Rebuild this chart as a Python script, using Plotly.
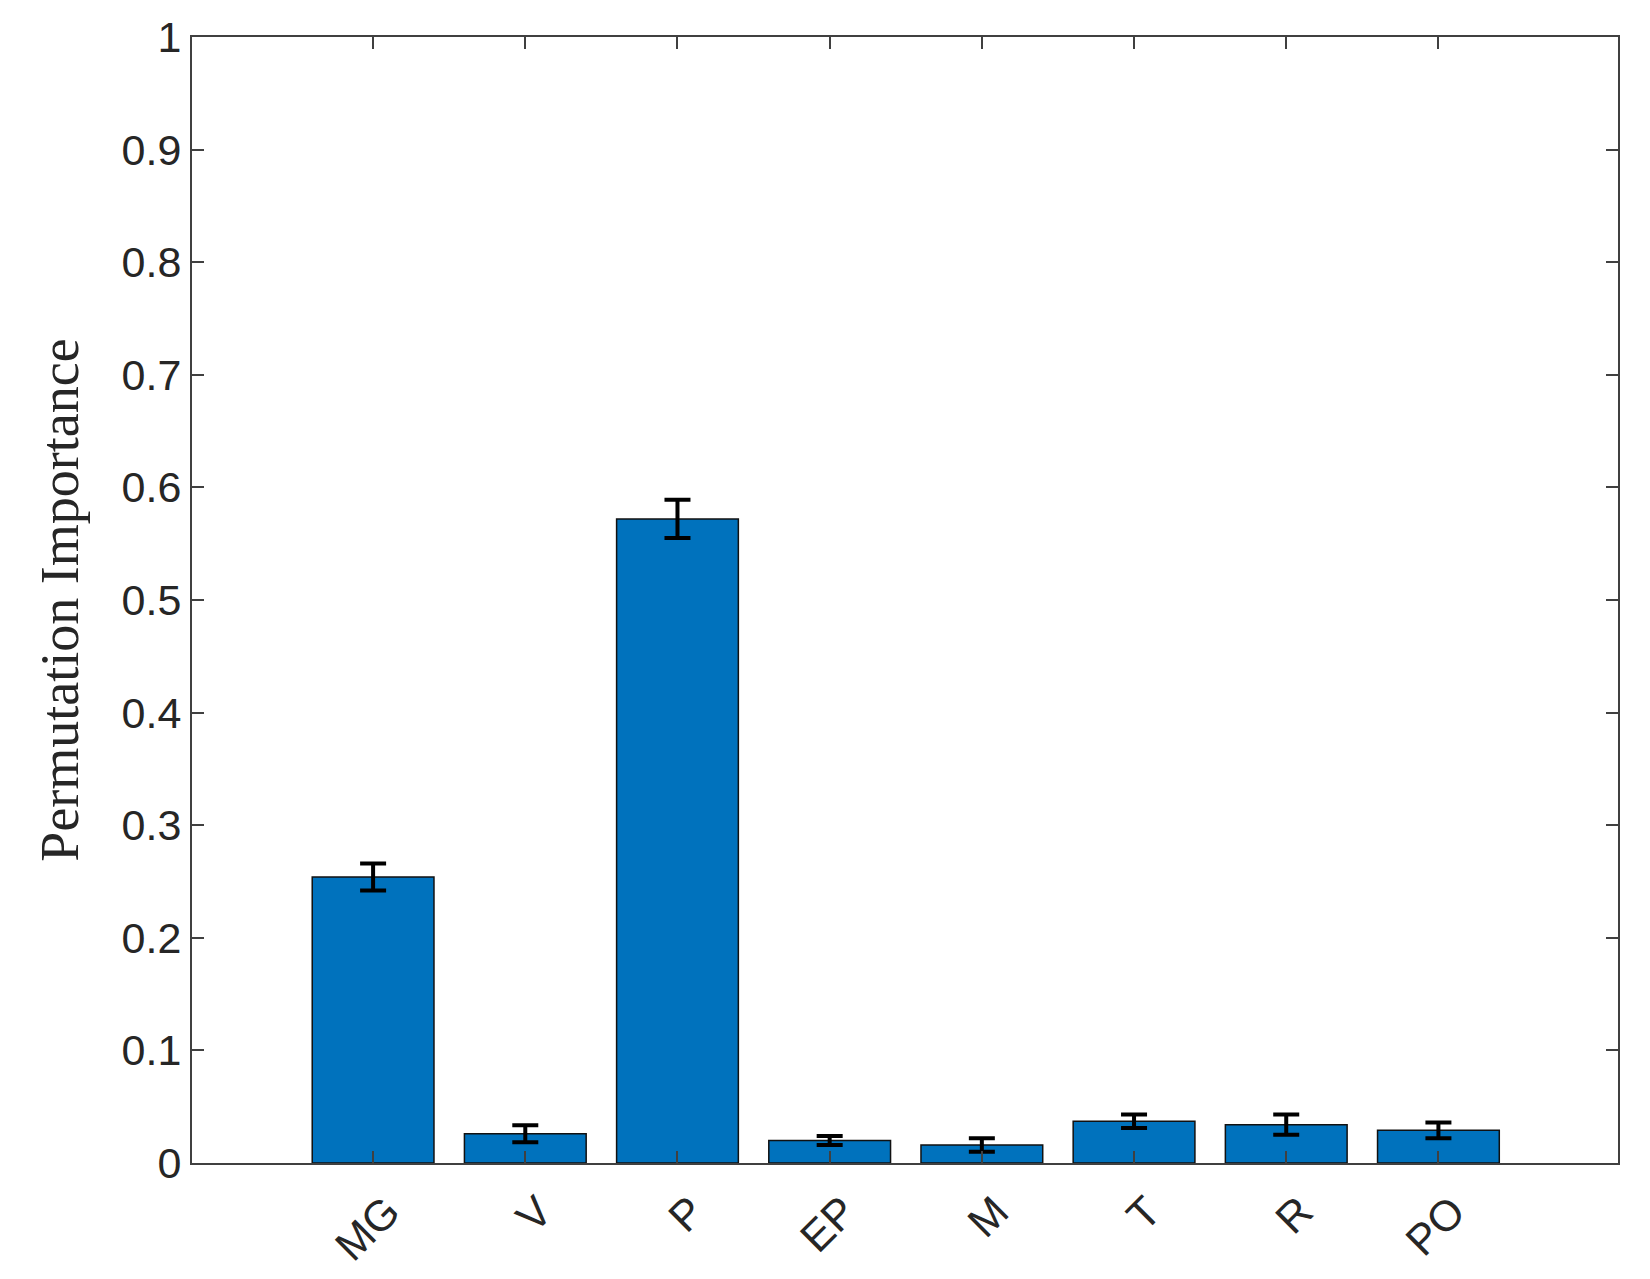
import plotly.graph_objects as go

categories = ["MG", "V", "P", "EP", "M", "T", "R", "PO"]
importance = [0.254, 0.026, 0.572, 0.020, 0.016, 0.037, 0.034, 0.029]
errors = [0.012, 0.0075, 0.017, 0.004, 0.006, 0.006, 0.009, 0.007]
y_ticks = [0, 0.1, 0.2, 0.3, 0.4, 0.5, 0.6, 0.7, 0.8, 0.9, 1]
y_tick_labels = ["0", "0.1", "0.2", "0.3", "0.4", "0.5", "0.6", "0.7", "0.8", "0.9", "1"]

xpos = list(range(len(categories)))

fig = go.Figure()
fig.add_trace(go.Bar(
    x=xpos, y=importance, width=0.8,
    marker=dict(color="#0072BD", line=dict(color="#111111", width=1.5)),
    error_y=dict(type="data", array=errors, visible=True,
                 color="black", thickness=4, width=13),
    showlegend=False,
))

axis_common = dict(
    showline=True, linecolor="#404040", linewidth=2, mirror="ticks",
    ticks="inside", ticklen=12, tickwidth=1.5, tickcolor="#404040",
    showgrid=False, zeroline=False,
    tickfont=dict(family="Liberation Sans, Arial, sans-serif", size=43, color="#262626"),
)

fig.update_xaxes(
    range=[-1.19, 8.18], tickmode="array", tickvals=xpos, ticktext=categories,
    tickangle=-45, ticklabelshift=14, ticklabelstandoff=4, **axis_common,
)
fig.update_yaxes(
    range=[0, 1], tickmode="array", tickvals=y_ticks, ticktext=y_tick_labels,
    title=dict(text="Permutation Importance",
               font=dict(family="Liberation Serif, Times New Roman, serif", size=54, color="#262626"),
               standoff=26),
    **axis_common,
)

fig.update_layout(
    width=1650, height=1279,
    margin=dict(l=184, r=40, t=29, b=124, autoexpand=False),
    plot_bgcolor="white", paper_bgcolor="white",
)

fig.write_html("out.html")
